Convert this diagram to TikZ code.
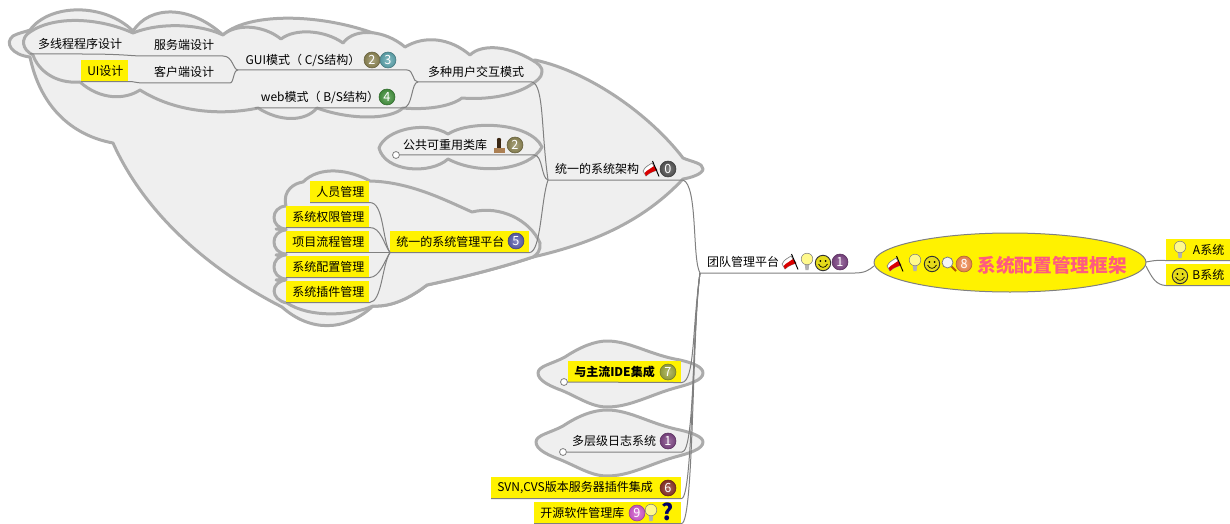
\documentclass[tikz,border=0pt]{standalone}
\usepackage{fontspec}
\setmainfont{Noto Sans CJK SC}
\usetikzlibrary{shapes.geometric}
\definecolor{cloudfill}{HTML}{EFEFEF}
\definecolor{cloudline}{HTML}{ABABAB}
\definecolor{linkgray}{HTML}{808080}
\definecolor{rootpink}{HTML}{FF5A80}
\definecolor{ball0}{HTML}{555555}
\definecolor{ball1}{HTML}{7E4585}
\definecolor{ball2}{HTML}{8F8755}
\definecolor{ball3}{HTML}{5FA7B0}
\definecolor{ball4}{HTML}{45953F}
\definecolor{ball5}{HTML}{5C60AE}
\definecolor{ball6}{HTML}{8C3328}
\definecolor{ball7}{HTML}{9EA83F}
\definecolor{ball8}{HTML}{F58A50}
\definecolor{ball9}{HTML}{D45BCF}
\tikzset{
	topic/.style={inner sep=0pt, font=\fontsize{9}{11}\selectfont},
	hl/.style={topic, fill=yellow, anchor=north west, inner xsep=4.5pt, inner ysep=0pt, minimum height=15.75pt, text width=(#1)*0.75pt-9pt, align=left},
	hlr/.style={hl=#1, align=right},
	badge/.style={circle, inner sep=0pt, minimum size=12pt, draw=#1!70!black, line width=0.4pt, inner color=#1!75!white, outer color=#1!90!black, text=white, font=\fontsize{9.5}{10}\selectfont},
	dot/.style={circle, draw=linkgray, fill=white, inner sep=0pt, minimum size=5.2pt, line width=0.6pt},
	link/.style={draw=linkgray, line width=0.75pt},
	cloudy/.style={draw=cloudline, fill=cloudfill, line width=2.25pt, line join=round},
	pics/flagicon/.style={code={
		\fill[white, draw=gray, line width=0.5pt] (-8,2) .. controls (-5,-4) and (-2,-3) .. (1,-6) -- (6,1) .. controls (2,3) and (-1,3) .. (-5,7) -- cycle;
		\fill[red!85!black] (-6.5,4) .. controls (-3,0) and (0,0) .. (3,-3) -- (6,1) .. controls (2,3) and (-1,3) .. (-5,7) -- cycle;
		\draw[black, line width=0.7pt] (1.5,-8) -- (8,7.5);
	}},
	pics/bulbicon/.style={code={
		\fill[gray!60] (-2.2,2) -- (2.2,2) -- (1.6,8) -- (-1.6,8) -- cycle;
		\fill[yellow!45, draw=gray, line width=0.4pt] (0,-3) circle (5.8);
	}},
	pics/smileicon/.style={code={
		\fill[yellow!88!black, draw=black!80, line width=0.7pt] (0,0) circle (7.7);
		\fill[black] (-2.6,-2) circle (1) (2.6,-2) circle (1);
		\draw[black, line width=0.5pt] (-4.5,1) .. controls (-2,5.5) and (2,5.5) .. (4.5,1);
	}},
	pics/lensicon/.style={code={
		\draw[orange!70!black, line width=1.5pt] (2,2) -- (7,7);
		\fill[white!92!gray, draw=gray, line width=0.6pt] (-1.5,-1.5) circle (5.5);
	}},
	pics/stampicon/.style={code={
		\fill[black!70!brown] (0,-6) circle (2.2);
		\fill[black!70!brown] (-1.7,-5) rectangle (1.7,2);
		\fill[brown!70!gray] (-5.5,2) rectangle (5.5,7.5);
	}}
}

\begin{document}
\begin{tikzpicture}[x=0.75pt, y=-0.75pt]
	\useasboundingbox (0,0) rectangle (1230,524);

	%clouds
	\draw[cloudy] (683,179) .. controls (640,225) and (585,245) .. (533,257)
		.. controls (500,268) and (460,278) .. (427,285)
		.. controls (410,298) and (392,307) .. (373,306)
		.. controls (345,332) and (310,332) .. (282,307)
		.. controls (225,278) and (150,225) .. (113,143)
		.. controls (70,135) and (40,105) .. (30,57)
		.. controls (12,55) and (4,43) .. (13,36)
		.. controls (18,33) and (25,32) .. (30,30)
		.. controls (50,3) and (105,3) .. (133,31)
		.. controls (150,5) and (190,5) .. (223,35)
		.. controls (250,10) and (340,12) .. (405,47)
		.. controls (450,65) and (500,70) .. (535,60)
		.. controls (590,72) and (650,115) .. (683,158)
		.. controls (692,162) and (703,163) .. (703,169)
		.. controls (703,174) and (690,178) .. (683,179) -- cycle;
	\draw[cloudy] (405,47) .. controls (425,35) and (450,38) .. (470,55)
		.. controls (480,45) and (505,44) .. (532,60)
		.. controls (538,63) and (543,68) .. (542,72)
		.. controls (542,78) and (535,82) .. (532,84)
		.. controls (515,96) and (485,100) .. (462,98)
		.. controls (450,107) and (425,110) .. (403,108)
		.. controls (390,120) and (350,120) .. (317,108)
		.. controls (305,122) and (280,122) .. (258,108)
		.. controls (220,116) and (175,112) .. (140,90)
		.. controls (125,100) and (100,100) .. (80,82)
		.. controls (55,84) and (38,70) .. (33,55)
		.. controls (22,50) and (20,38) .. (30,32)
		.. controls (55,15) and (100,18) .. (133,33)
		.. controls (160,22) and (200,24) .. (223,35)
		.. controls (235,24) and (262,24) .. (281,39)
		.. controls (295,28) and (325,30) .. (343,43)
		.. controls (355,27) and (385,30) .. (405,47) -- cycle;
	\draw[cloudy] (379,148) .. controls (385,130) and (425,120) .. (448,134)
		.. controls (470,120) and (530,122) .. (542,147)
		.. controls (530,170) and (480,176) .. (448,159)
		.. controls (430,175) and (385,172) .. (379,148) -- cycle;
	\draw[cloudy] (540,243) .. controls (541,250) and (537,255) .. (533,257)
		.. controls (500,268) and (460,278) .. (427,285)
		.. controls (410,298) and (392,307) .. (373,306)
		.. controls (350,316) and (310,318) .. (287,303)
		.. controls (270,300) and (270,282) .. (286,280) -- (276,280) -- (286,279)
		.. controls (270,278) and (270,256) .. (286,255) -- (276,255) -- (286,254)
		.. controls (270,253) and (270,231) .. (286,230) -- (276,229) -- (286,229)
		.. controls (270,228) and (270,207) .. (286,206)
		.. controls (282,190) and (295,183) .. (303,182)
		.. controls (320,165) and (350,170) .. (370,181)
		.. controls (410,182) and (445,200) .. (472,212)
		.. controls (500,205) and (530,220) .. (540,243) -- cycle;
	\draw[cloudy] (538,373) .. controls (538,366) and (552,364) .. (565,357)
		.. controls (580,347) and (595,341) .. (607,341)
		.. controls (630,341) and (650,355) .. (680,360)
		.. controls (693,363) and (703,367) .. (703,373)
		.. controls (703,380) and (690,384) .. (675,388)
		.. controls (650,395) and (630,407) .. (607,407)
		.. controls (590,407) and (575,395) .. (558,389)
		.. controls (548,385) and (538,380) .. (538,373) -- cycle;
	\draw[cloudy] (536,442) .. controls (536,435) and (550,433) .. (563,426)
		.. controls (578,416) and (593,410) .. (607,410)
		.. controls (630,410) and (650,424) .. (680,430)
		.. controls (693,433) and (703,437) .. (703,442)
		.. controls (703,449) and (690,453) .. (675,457)
		.. controls (650,464) and (630,476) .. (607,476)
		.. controls (590,476) and (575,465) .. (556,458)
		.. controls (546,454) and (536,449) .. (536,442) -- cycle;

	%topics
	\node[topic] (thread) at (80,44) {多线程程序设计};
	\node[topic] (server) at (184,45) {服务端设计};
	\node[topic] (client) at (184,72) {客户端设计};
	\node[hl=47] (ui) at (81,60) {UI设计};
	\node[topic] (gui) at (303,60) {GUI模式（ C/S结构）};
	\node[topic] (web) at (320,97) {web模式（ B/S结构）};
	\node[topic] (multi) at (476,72) {多种用户交互模式};
	\node[topic] (common) at (445,145) {公共可重用类库};
	\node[topic] (arch) at (597,169) {统一的系统架构};
	\node[hl=139] (platform) at (390,231) {统一的系统管理平台};
	\node[hl=59] (staff) at (310,181) {人员管理};
	\node[hl=83] (rights) at (286,206) {系统权限管理};
	\node[hl=83] (flow) at (286,231) {项目流程管理};
	\node[hl=83] (conf) at (286,256) {系统配置管理};
	\node[hl=83] (plugin) at (286,281) {系统插件管理};
	\node[topic] (team) at (743,262) {团队管理平台};
	\node[hl=113, font=\fontsize{9}{11}\bfseries] (ide) at (568,361) {与主流IDE集成};
	\node[topic] (logs) at (614,441) {多层级日志系统};
	\node[hl=190] (svn) at (491,477) {SVN,CVS版本服务器插件集成};
	\node[hl=147] (open) at (534,502) {开源软件管理库};
	\node[hlr=64] (sys_a) at (1166,239) {A系统};
	\node[hlr=64] (sys_b) at (1166,264) {B系统};
	\node[ellipse, draw=linkgray, fill=yellow, line width=0.75pt, minimum width=204pt, minimum height=44.25pt, inner sep=0pt] (root) at (1010,262.5) {};
	\node[topic, text=rootpink, font=\fontsize{14}{16}\bfseries] (root_txt) at (1052,265) {系统配置管理框架};

	\node[dot] (dot_common) at (396,155) {};
	\node[dot] (dot_ide) at (564,382) {};
	\node[dot] (dot_logs) at (563,452) {};

	%junctions
	\coordinate (l_thread) at (30,54);
	\coordinate (l_server) at (143,56);
	\coordinate (r_server) at (223,56);
	\coordinate (l_client) at (143,83);
	\coordinate (r_client) at (230,83);
	\coordinate (l_gui) at (238,70);
	\coordinate (r_gui) at (407,70);
	\coordinate (l_web) at (255,108);
	\coordinate (r_web) at (403,108);
	\coordinate (l_multi) at (418,82);
	\coordinate (r_multi) at (532,82);
	\coordinate (r_common) at (534,155);
	\coordinate (l_arch) at (548,180);
	\coordinate (r_arch) at (683,180);
	\coordinate (l_team) at (700,273);
	\coordinate (r_team) at (855,273);
	\coordinate (r_logs) at (682,452);
	\coordinate (l_root) at (874,266);
	\coordinate (r_root_a) at (1146,262);
	\coordinate (r_root_b) at (1146,266);

	%edges
	\draw[link] (l_thread) -- (ui.south west |- l_thread) .. controls (125,54) and (130,56) .. (l_server) -- (r_server) .. controls (233,56) and (233,70) .. (l_gui);
	\draw[link] (ui.south west) -- (ui.south east) .. controls (132,81) and (136,83) .. (l_client) -- (r_client) .. controls (234,83) and (233,70) .. (l_gui);
	\draw[link] (l_gui) -- (r_gui) .. controls (414,70) and (412,82) .. (l_multi);
	\draw[link] (l_web) -- (r_web) .. controls (413,108) and (411,82) .. (l_multi);
	\draw[link] (l_multi) -- (r_multi) .. controls (544,85) and (541,130) .. (l_arch);
	\draw[link] (dot_common) -- (r_common) .. controls (543,155) and (541,178) .. (l_arch);
	\draw[link] (platform.south west) -- (platform.south east) .. controls (541,252) and (541,200) .. (l_arch);
	\draw[link] (staff.south west) -- (staff.south east) .. controls (384,202) and (382,240) .. (platform.south west);
	\draw[link] (rights.south west) -- (rights.south east) .. controls (381,227) and (384,245) .. (platform.south west);
	\draw[link] (flow.south west) -- (platform.south west);
	\draw[link] (conf.south west) -- (conf.south east) .. controls (380,277) and (384,262) .. (platform.south west);
	\draw[link] (plugin.south west) -- (plugin.south east) .. controls (382,302) and (382,265) .. (platform.south west);
	\draw[link] (l_arch) -- (r_arch) .. controls (698,185) and (692,260) .. (l_team);
	\draw[link] (l_team) -- (r_team) .. controls (865,273) and (869,270) .. (l_root);
	\draw[link] (dot_ide) -- (ide.south east) .. controls (695,382) and (692,330) .. (l_team);
	\draw[link] (dot_logs) -- (r_logs) .. controls (695,452) and (692,330) .. (l_team);
	\draw[link] (svn.south west) -- (svn.south east) .. controls (693,498) and (692,330) .. (l_team);
	\draw[link] (open.south west) -- (open.south east) .. controls (694,523) and (692,330) .. (l_team);
	\draw[link] (r_root_a) .. controls (1152,261) and (1155,260) .. (sys_a.south west) -- (sys_a.south east);
	\draw[link] (r_root_b) .. controls (1152,278) and (1156,285) .. (sys_b.south west) -- (sys_b.south east);

	%icons
	\node[badge=ball2] (b_gui2) at (372,60) {2};
	\node[badge=ball3] (b_gui3) at (388,60) {3};
	\node[badge=ball4] (b_web) at (387,97) {4};
	\pic at (499,146) {stampicon};
	\node[badge=ball2] (b_common) at (515,145) {2};
	\pic at (651,169) {flagicon};
	\node[badge=ball0] (b_arch) at (668,169) {0};
	\node[badge=ball5] (b_platform) at (516,241) {5};
	\pic at (790,262) {flagicon};
	\pic at (807,262) {bulbicon};
	\pic at (823,263) {smileicon};
	\node[badge=ball1] (b_team) at (840,262) {1};
	\pic at (895,264) {flagicon};
	\pic at (915,263) {bulbicon};
	\pic at (932,264) {smileicon};
	\pic at (949,264) {lensicon};
	\node[badge=ball8] (b_root) at (964,264) {8};
	\node[badge=ball7] (b_ide) at (668,372) {7};
	\node[badge=ball1] (b_logs) at (668,441) {1};
	\node[badge=ball6] (b_svn) at (668,488) {6};
	\node[badge=ball9] (b_open) at (637,513) {9};
	\pic at (651,513) {bulbicon};
	\node[topic, text=blue!40!black, font=\fontsize{17}{17}\bfseries] (q_open) at (668,512) {?};
	\pic at (1180,250) {bulbicon};
	\pic at (1180,276) {smileicon};
\end{tikzpicture}
\end{document}
